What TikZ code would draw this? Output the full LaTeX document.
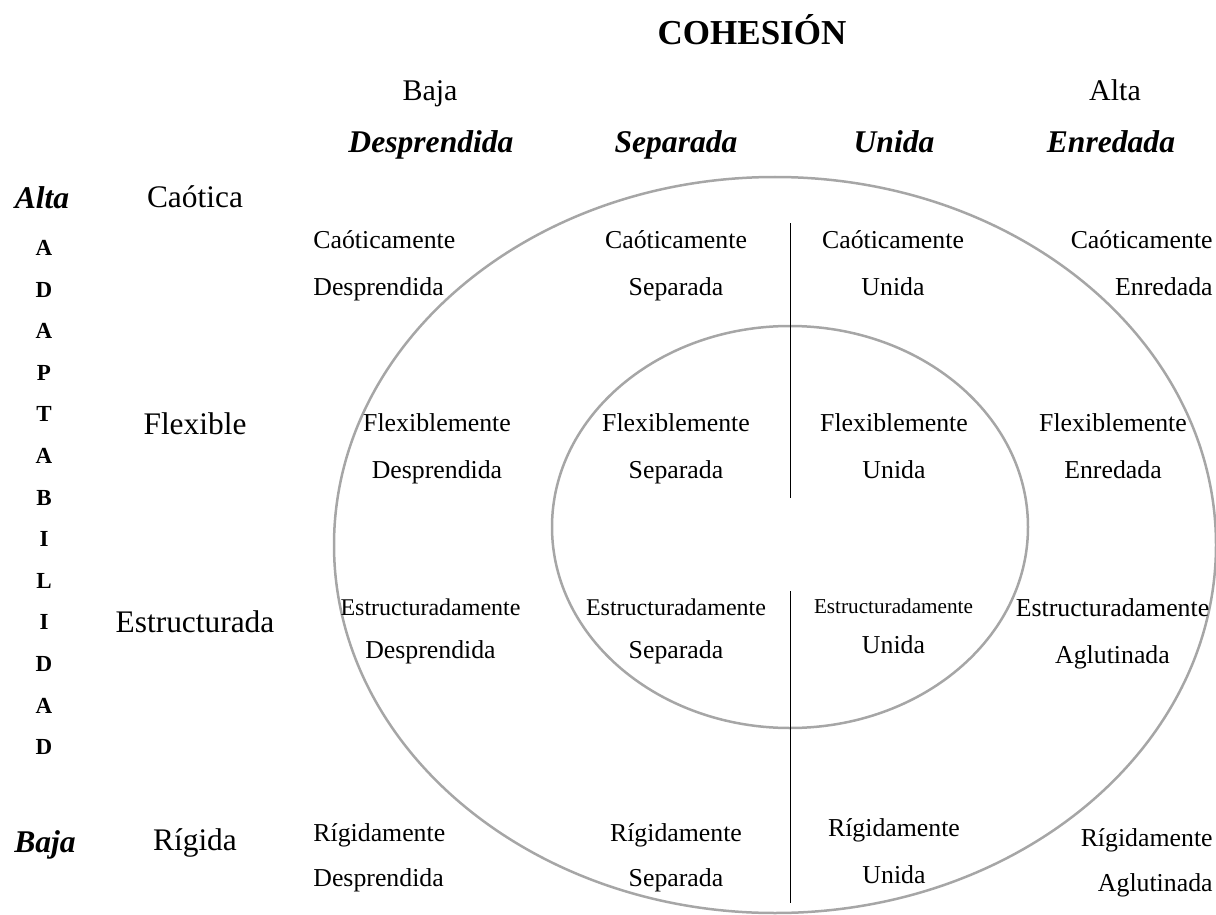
\documentclass[tikz,border=0pt]{standalone}
\usepackage{fontspec}
\setmainfont{Liberation Serif}
\usepackage{tikz}
\usetikzlibrary{positioning}

\begin{document}
\begin{tikzpicture}[
    x=0.5pt, y=-0.5pt,
    every node/.style={anchor=base, inner sep=0pt},
    titulo/.style={font=\fontsize{17.5}{20}\selectfont\bfseries},
    nivel/.style={font=\fontsize{15}{18}\selectfont},
    tipo/.style={font=\fontsize{15.8}{18}\selectfont\bfseries\itshape},
    fila/.style={font=\fontsize{15.7}{18}\selectfont},
    letra/.style={font=\fontsize{11.5}{13}\selectfont\bfseries},
    celda/.style={font=\fontsize{12.9}{23.5}\selectfont, align=center},
    anillo/.style={draw=black!35, line width=1.25pt},
    eje/.style={draw=black, line width=0.5pt}
]
\useasboundingbox (0,0) rectangle (1216,915);

% Anillos
\draw[anillo] (775,545) ellipse [x radius=441, y radius=368];
\draw[anillo] (790,527) ellipse [x radius=238, y radius=201];

% Cabecera
\node[titulo] (coh) at (752,44.5) {COHESIÓN};
\node[nivel] (cbaja) at (430,101) {Baja};
\node[nivel] (calta) at (1115,101) {Alta};
\node[tipo] (desp) at (431,153) {Desprendida};
\node[tipo] (sepa) at (676,153) {Separada};
\node[tipo] (unid) at (894,153) {Unida};
\node[tipo] (enre) at (1111,153) {Enredada};

% Adaptabilidad
\node[tipo] (aalta) at (42,208) {Alta};
\node[tipo] (abaja) at (45,852.5) {Baja};
\foreach \l [count=\i from 0] in {A,D,A,P,T,A,B,I,L,I,D,A,D}
    \node[letra] (l\i) at (44,255.5+41.6*\i) {\l};
\node[fila] (caot) at (195,207.5) {Caótica};
\node[fila] (flex) at (195,434.5) {Flexible};
\node[fila] (estr) at (195,632.5) {Estructurada};
\node[fila] (rigi) at (195,850.5) {Rígida};

% Celdas
\node[celda, anchor=base west, align=left] (c11) at (313,295) {Caóticamente\\Desprendida};
\node[celda] (c12) at (676,295) {Caóticamente\\Separada};
\node[celda] (c13) at (893,295) {Caóticamente\\Unida};
\node[celda, anchor=base east, align=right] (c14) at (1213,295) {Caóticamente\\Enredada};

\node[celda] (c21) at (437,478) {Flexiblemente\\Desprendida};
\node[celda] (c22) at (676,478) {Flexiblemente\\Separada};
\node[celda] (c23) at (894,478) {Flexiblemente\\Unida};
\node[celda] (c24) at (1113,478) {Flexiblemente\\Enredada};

\node[celda, font=\fontsize{12.9}{21.5}\selectfont] (c31) at (430.5,658)
    {{\fontsize{12}{21.5}\selectfont Estructuradamente}\\Desprendida};
\node[celda, font=\fontsize{12.9}{21.5}\selectfont] (c32) at (676,658)
    {{\fontsize{12}{21.5}\selectfont Estructuradamente}\\Separada};
\node[celda, font=\fontsize{12.9}{20}\selectfont] (c33) at (893.5,653)
    {{\fontsize{10.6}{20}\selectfont Estructuradamente}\\Unida};
\node[celda] (c34) at (1112.5,663) {Estructuradamente\\Aglutinada};

\node[celda, font=\fontsize{12.9}{22.5}\selectfont, anchor=base west, align=left] (c41) at (313,886) {Rígidamente\\Desprendida};
\node[celda, font=\fontsize{12.9}{22.5}\selectfont] (c42) at (676,886) {Rígidamente\\Separada};
\node[celda] (c43) at (894,883) {Rígidamente\\Unida};
\node[celda, font=\fontsize{12.9}{22.5}\selectfont, anchor=base east, align=right] (c44) at (1213,891) {Rígidamente\\Aglutinada};

% Eje central
\coordinate (e1) at (790,223);
\coordinate (e2) at (790,498);
\coordinate (e3) at (790,591);
\coordinate (e4) at (790,903);
\draw[eje] (e1) -- (e2);
\draw[eje] (e3) -- (e4);

\end{tikzpicture}
\end{document}
